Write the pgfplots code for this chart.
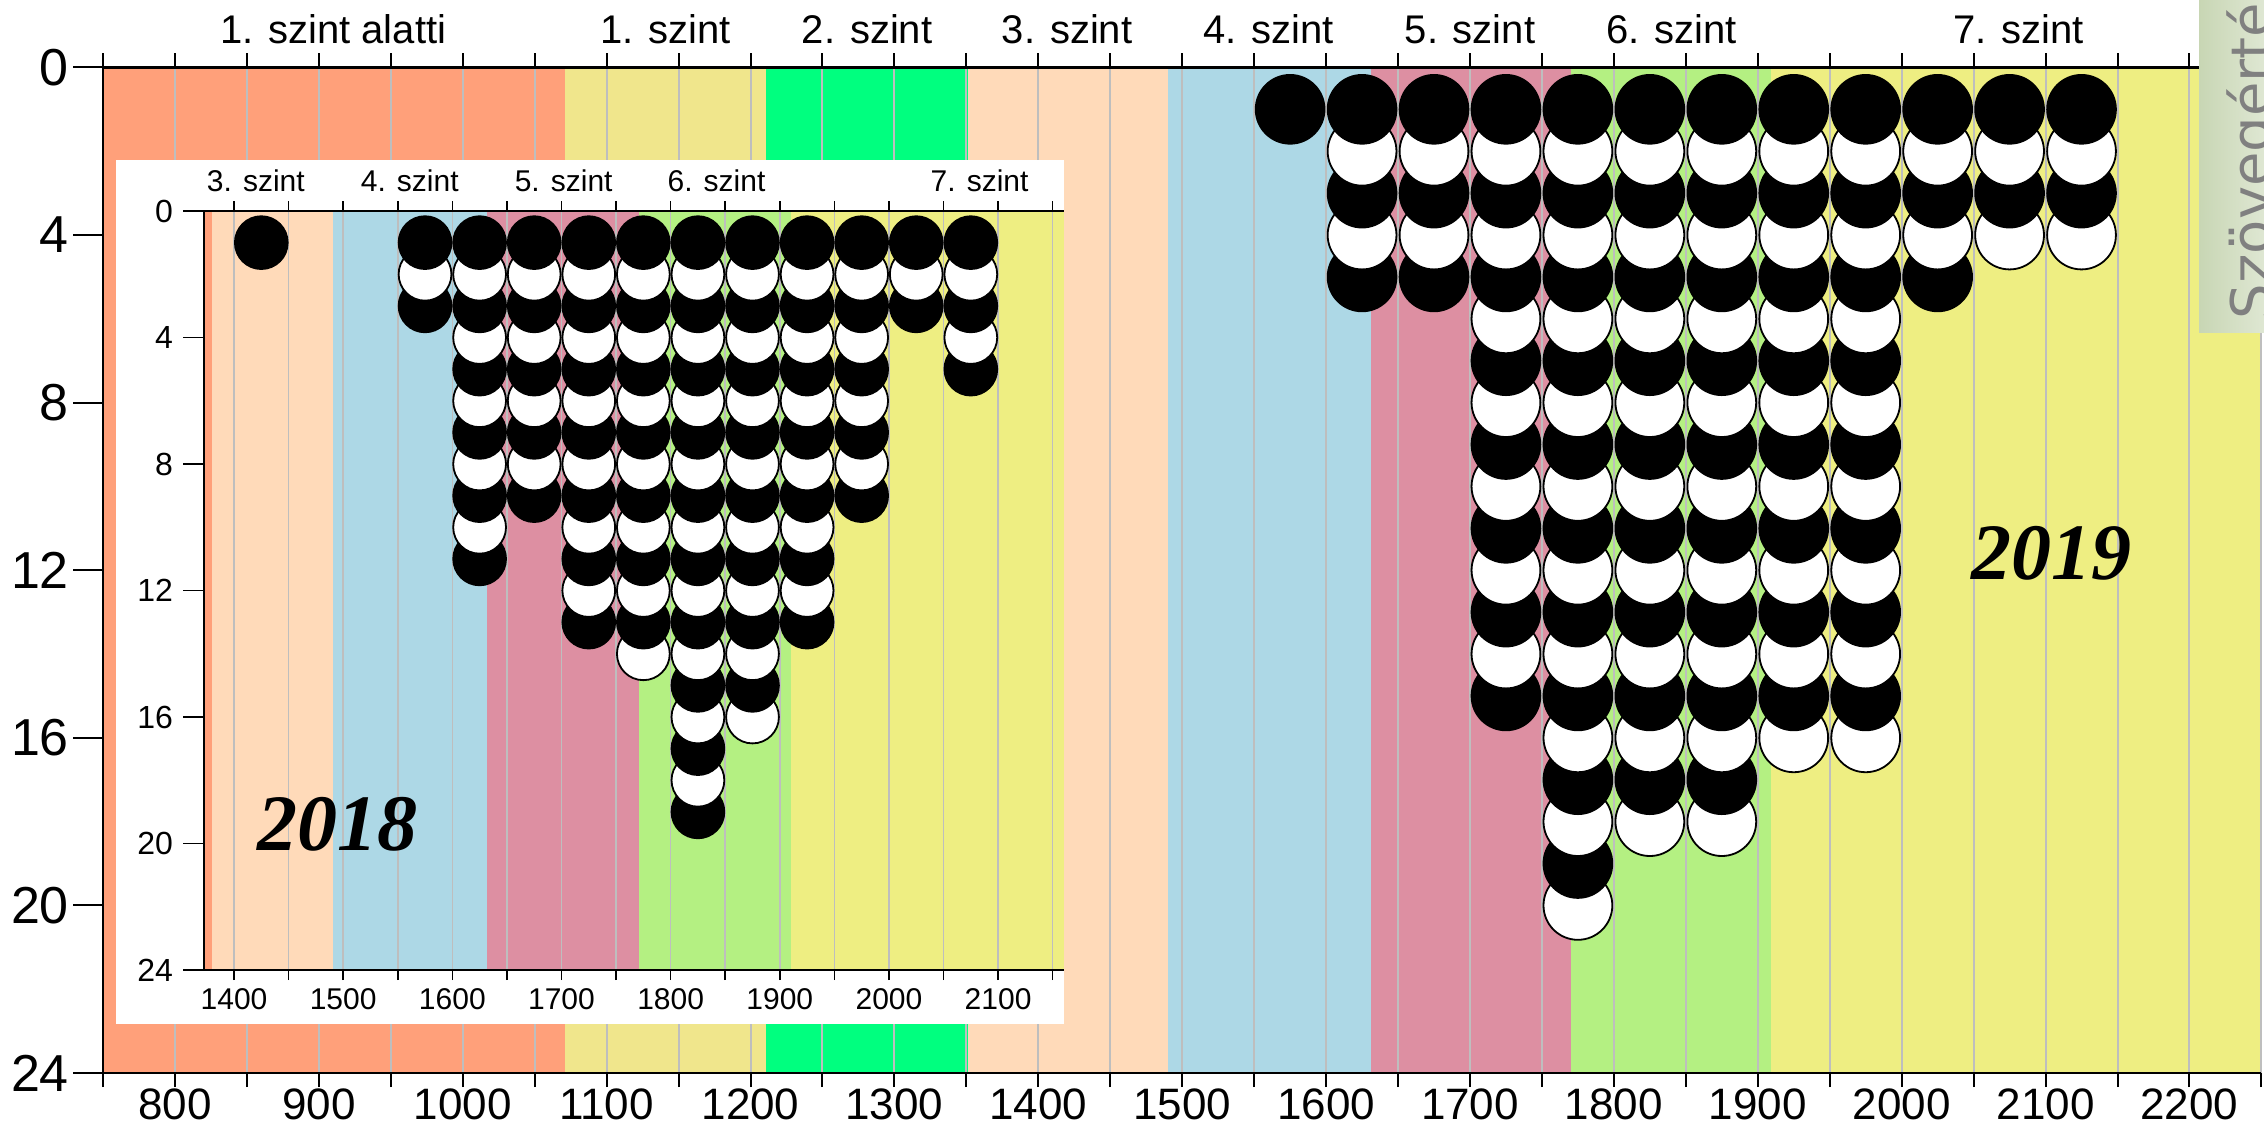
\documentclass[border=0pt]{standalone}
\usepackage{fontspec}
\setmainfont{Liberation Sans}
\newfontfamily\yearfont{Liberation Serif}
\newfontfamily\dejavu{DejaVu Sans}
\usepackage{pgfplots}
\usepackage{pgfplotstable}
\pgfplotsset{compat=1.18}
\definecolor{c0}{HTML}{FFA07A}
\definecolor{c1}{HTML}{F0E68C}
\definecolor{c2}{HTML}{00FF7F}
\definecolor{c3}{HTML}{FFDAB9}
\definecolor{c4}{HTML}{ADD8E6}
\definecolor{c5}{HTML}{DD8FA2}
\definecolor{c6}{HTML}{B4F082}
\definecolor{c7}{HTML}{EEEE82}
\definecolor{gridc}{HTML}{BEBEBE}
\definecolor{boxl}{RGB}{200,214,180}
\definecolor{boxr}{RGB}{228,235,218}
\definecolor{txtg}{RGB}{128,128,128}

% 2019 dot plot: x y c (c=1 black, c=0 white)
\pgfplotstableread[row sep=\\]{
x y c\\
1575 1 1\\
1625 5 1\\1625 4 0\\1625 3 1\\1625 2 0\\1625 1 1\\
1675 5 1\\1675 4 0\\1675 3 1\\1675 2 0\\1675 1 1\\
1725 15 1\\1725 14 0\\1725 13 1\\1725 12 0\\1725 11 1\\1725 10 0\\1725 9 1\\1725 8 0\\1725 7 1\\1725 6 0\\1725 5 1\\1725 4 0\\1725 3 1\\1725 2 0\\1725 1 1\\
1775 20 0\\1775 19 1\\1775 18 0\\1775 17 1\\1775 16 0\\1775 15 1\\1775 14 0\\1775 13 1\\1775 12 0\\1775 11 1\\1775 10 0\\1775 9 1\\1775 8 0\\1775 7 1\\1775 6 0\\1775 5 1\\1775 4 0\\1775 3 1\\1775 2 0\\1775 1 1\\
1825 18 0\\1825 17 1\\1825 16 0\\1825 15 1\\1825 14 0\\1825 13 1\\1825 12 0\\1825 11 1\\1825 10 0\\1825 9 1\\1825 8 0\\1825 7 1\\1825 6 0\\1825 5 1\\1825 4 0\\1825 3 1\\1825 2 0\\1825 1 1\\
1875 18 0\\1875 17 1\\1875 16 0\\1875 15 1\\1875 14 0\\1875 13 1\\1875 12 0\\1875 11 1\\1875 10 0\\1875 9 1\\1875 8 0\\1875 7 1\\1875 6 0\\1875 5 1\\1875 4 0\\1875 3 1\\1875 2 0\\1875 1 1\\
1925 16 0\\1925 15 1\\1925 14 0\\1925 13 1\\1925 12 0\\1925 11 1\\1925 10 0\\1925 9 1\\1925 8 0\\1925 7 1\\1925 6 0\\1925 5 1\\1925 4 0\\1925 3 1\\1925 2 0\\1925 1 1\\
1975 16 0\\1975 15 1\\1975 14 0\\1975 13 1\\1975 12 0\\1975 11 1\\1975 10 0\\1975 9 1\\1975 8 0\\1975 7 1\\1975 6 0\\1975 5 1\\1975 4 0\\1975 3 1\\1975 2 0\\1975 1 1\\
2025 5 1\\2025 4 0\\2025 3 1\\2025 2 0\\2025 1 1\\
2075 4 0\\2075 3 1\\2075 2 0\\2075 1 1\\
2125 4 0\\2125 3 1\\2125 2 0\\2125 1 1\\
}\dotsB

% 2018 dot plot
\pgfplotstableread[row sep=\\]{
x y c\\
1425 1 1\\
1575 3 1\\1575 2 0\\1575 1 1\\
1625 11 1\\1625 10 0\\1625 9 1\\1625 8 0\\1625 7 1\\1625 6 0\\1625 5 1\\1625 4 0\\1625 3 1\\1625 2 0\\1625 1 1\\
1675 9 1\\1675 8 0\\1675 7 1\\1675 6 0\\1675 5 1\\1675 4 0\\1675 3 1\\1675 2 0\\1675 1 1\\
1725 13 1\\1725 12 0\\1725 11 1\\1725 10 0\\1725 9 1\\1725 8 0\\1725 7 1\\1725 6 0\\1725 5 1\\1725 4 0\\1725 3 1\\1725 2 0\\1725 1 1\\
1775 14 0\\1775 13 1\\1775 12 0\\1775 11 1\\1775 10 0\\1775 9 1\\1775 8 0\\1775 7 1\\1775 6 0\\1775 5 1\\1775 4 0\\1775 3 1\\1775 2 0\\1775 1 1\\
1825 19 1\\1825 18 0\\1825 17 1\\1825 16 0\\1825 15 1\\1825 14 0\\1825 13 1\\1825 12 0\\1825 11 1\\1825 10 0\\1825 9 1\\1825 8 0\\1825 7 1\\1825 6 0\\1825 5 1\\1825 4 0\\1825 3 1\\1825 2 0\\1825 1 1\\
1875 16 0\\1875 15 1\\1875 14 0\\1875 13 1\\1875 12 0\\1875 11 1\\1875 10 0\\1875 9 1\\1875 8 0\\1875 7 1\\1875 6 0\\1875 5 1\\1875 4 0\\1875 3 1\\1875 2 0\\1875 1 1\\
1925 13 1\\1925 12 0\\1925 11 1\\1925 10 0\\1925 9 1\\1925 8 0\\1925 7 1\\1925 6 0\\1925 5 1\\1925 4 0\\1925 3 1\\1925 2 0\\1925 1 1\\
1975 9 1\\1975 8 0\\1975 7 1\\1975 6 0\\1975 5 1\\1975 4 0\\1975 3 1\\1975 2 0\\1975 1 1\\
2025 3 1\\2025 2 0\\2025 1 1\\
2075 5 1\\2075 4 0\\2075 3 1\\2075 2 0\\2075 1 1\\
}\dotsA

\pgfplotsset{
  band/.style={fill=#1, draw=none},
  dots/.style={scatter, only marks, mark=*, point meta=explicit symbolic,
    mark options={line width=0.45pt},
    scatter/classes={0={mark=*,fill=white,draw=black},1={mark=*,fill=black,draw=black}}},
}

\begin{document}
\begin{tikzpicture}
\useasboundingbox (0,0) rectangle (566pt,281.75pt);
\clip (0,0) rectangle (566pt,281.75pt);
% ---------------- main axis (2019) ----------------
\begin{axis}[
  at={(25.75pt,13.5pt)}, anchor=south west,
  scale only axis, width=539.6pt, height=251.4pt,
  xmin=750, xmax=2250, ymin=0, ymax=24, y dir=reverse,
  axis x line*=box, axis y line*=left,
  axis on top, clip=false,
  xtick={800,900,...,2200}, minor xtick={750,850,...,2250},
  ytick=\empty, extra y ticks={0,4,...,24},
  extra y tick style={major tick length=7.5pt},
  tick align=outside, major tick length=3.5pt, minor tick length=3.5pt,
  /pgf/number format/assume math mode=true,
  /pgf/number format/1000 sep={},
  xticklabel style={font=\fontsize{11}{13}\selectfont, yshift=3pt},
  yticklabel style={font=\fontsize{13}{15}\selectfont, xshift=2.5pt},
  tick style={black, line width=0.5pt},
  axis line style={black, line width=0.6pt},
]
\addplot[band=c0] coordinates {(750,24) (1071,24)} \closedcycle;
\addplot[band=c1] coordinates {(1071,24) (1211,24)} \closedcycle;
\addplot[band=c2] coordinates {(1211,24) (1351,24)} \closedcycle;
\addplot[band=c3] coordinates {(1351,24) (1490,24)} \closedcycle;
\addplot[band=c4] coordinates {(1490,24) (1631,24)} \closedcycle;
\addplot[band=c5] coordinates {(1631,24) (1770,24)} \closedcycle;
\addplot[band=c6] coordinates {(1770,24) (1909,24)} \closedcycle;
\addplot[band=c7] coordinates {(1909,24) (2250,24)} \closedcycle;
\addplot[ycomb, draw=gridc, line width=0.5pt] coordinates {
(800,24)(850,24)(900,24)(950,24)(1000,24)(1050,24)(1100,24)(1150,24)(1200,24)(1250,24)
(1300,24)(1350,24)(1400,24)(1450,24)(1500,24)(1550,24)(1600,24)(1650,24)(1700,24)(1750,24)
(1800,24)(1850,24)(1900,24)(1950,24)(2000,24)(2050,24)(2100,24)(2150,24)(2200,24)(2250,24)};
\addplot[dots, mark size=8.6pt] table[x=x,y=y,meta=c] {\dotsB};
\begin{scope}[every node/.style={anchor=base, yshift=6pt, font=\fontsize{10}{12}\selectfont, inner sep=0pt}]
\node at (axis cs:910,0) {1. szint alatti};
\node at (axis cs:1141,0) {1. szint};
\node at (axis cs:1281,0) {2. szint};
\node at (axis cs:1420,0) {3. szint};
\node at (axis cs:1560,0) {4. szint};
\node at (axis cs:1700,0) {5. szint};
\node at (axis cs:1840,0) {6. szint};
\node at (axis cs:2081,0) {7. szint};
\end{scope}
\node[font=\yearfont\bfseries\itshape\fontsize{20}{24}\selectfont] at (axis cs:2104,11.6) {2019};
\end{axis}
% ---------------- inset (2018) ----------------
\fill[white] (29pt,25.75pt) rectangle (266pt,241.75pt);
\begin{axis}[
  at={(51pt,39.25pt)}, anchor=south west,
  scale only axis, width=214.9pt, height=189.75pt,
  xmin=1372.5, xmax=2160, ymin=0, ymax=24, y dir=reverse,
  axis x line*=box, axis y line*=left,
  axis on top, clip=false,
  xtick={1400,1500,...,2100}, minor xtick={1450,1550,...,2150},
  ytick=\empty, extra y ticks={0,4,...,24},
  extra y tick style={major tick length=5.25pt},
  tick align=outside, major tick length=2.5pt, minor tick length=2.5pt,
  /pgf/number format/assume math mode=true,
  /pgf/number format/1000 sep={},
  xticklabel style={font=\fontsize{7.5}{9}\selectfont, yshift=1.5pt},
  yticklabel style={font=\fontsize{8}{9}\selectfont, xshift=1pt},
  tick style={black, line width=0.4pt},
  axis line style={black, line width=0.5pt},
]
\addplot[band=c0] coordinates {(1372.5,24) (1380,24)} \closedcycle;
\addplot[band=c3] coordinates {(1380,24) (1491,24)} \closedcycle;
\addplot[band=c4] coordinates {(1491,24) (1632,24)} \closedcycle;
\addplot[band=c5] coordinates {(1632,24) (1771,24)} \closedcycle;
\addplot[band=c6] coordinates {(1771,24) (1910,24)} \closedcycle;
\addplot[band=c7] coordinates {(1910,24) (2160,24)} \closedcycle;
\addplot[ycomb, draw=gridc, line width=0.4pt] coordinates {
(1400,24)(1450,24)(1500,24)(1550,24)(1600,24)(1650,24)(1700,24)(1750,24)
(1800,24)(1850,24)(1900,24)(1950,24)(2000,24)(2050,24)(2100,24)(2150,24)};
\addplot[dots, mark size=6.6pt] table[x=x,y=y,meta=c] {\dotsA};
\begin{scope}[every node/.style={anchor=base, yshift=4.8pt, font=\fontsize{7.5}{9}\selectfont, inner sep=0pt}]
\node at (axis cs:1420,0) {3. szint};
\node at (axis cs:1561,0) {4. szint};
\node at (axis cs:1702,0) {5. szint};
\node at (axis cs:1842,0) {6. szint};
\node at (axis cs:2083,0) {7. szint};
\end{scope}
\node[font=\yearfont\bfseries\itshape\fontsize{20}{24}\selectfont] at (axis cs:1495,19.4) {2018};
\end{axis}
% ---------------- cut-off side box ----------------
\shade[left color=boxl, right color=boxr] (549.75pt,198.5pt) rectangle (570pt,290pt);
\node[rotate=90, anchor=base west, inner sep=0pt, text=txtg, font=\dejavu\fontsize{14}{16}\selectfont] at (567.75pt,201.75pt) {Szövegértés};
\end{tikzpicture}
\end{document}
